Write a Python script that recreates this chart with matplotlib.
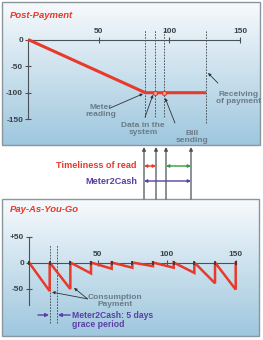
import numpy as np
import matplotlib.pyplot as plt

plt.rcParams['font.family'] = ['Liberation Sans', 'DejaVu Sans']

# ---- data ----
# post-payment balance: consumption until meter reading, then flat until payment
post_x = [0, 83, 90, 96, 126]
post_y = [0, -100, -100, -100, -100]
post_events = [83, 90, 96, 126]          # meter reading, data in system, bill sending, payment
post_ticks = [50, 100, 150]
post_yticks = [0, -50, -100, -150]

# pay-as-you-go: payment every 15 days, balance drops in between
payg_days = [0, 15, 30, 45, 60, 75, 90, 105, 120, 135, 150]
payg_min = [-55, -51, -21, -12, -10, -7, -10, -20, -40, -52]
payg_ticks = [50, 100, 150]
payg_yticks = [-50, 0, 50]
payg_ylabels = ['-50', '0', '+50']
grace = [15, 20]

W, H = 263, 340
RED = '#e8392a'
GREY = '#6b7c88'
PURPLE = '#5a3ea6'
GREEN = '#2f9c3c'
AXC = '#4a5258'

fig = plt.figure(figsize=(W / 100, H / 100), dpi=100)

# background / diagram layer in pixel coordinates
bg = fig.add_axes([0, 0, 1, 1])
bg.set_xlim(0, W)
bg.set_ylim(H, 0)
bg.axis('off')
grad = np.linspace(0, 1, 256).reshape(-1, 1)
c_top = np.array([0.97, 0.98, 0.99])
c_bot = np.array([0.62, 0.78, 0.87])
img = c_top + grad[..., None] * (c_bot - c_top)
for (x0, y0, x1, y1) in [(2, 2, 260, 145), (2, 199, 259, 336)]:
    bg.imshow(img, extent=(x0, x1, y1, y0), aspect='auto', zorder=0)
    bg.add_patch(plt.Rectangle((x0, y0), x1 - x0, y1 - y0, fill=False,
                               ec='#8a969e', lw=1.0, zorder=1))
bg.text(10, 15, 'Post-Payment', color=RED, fontsize=6.8, fontweight='bold',
        fontstyle='italic', va='center')
bg.text(10, 209, 'Pay-As-You-Go', color=RED, fontsize=6.8, fontweight='bold',
        fontstyle='italic', va='center')

# middle: timeline arrows
for x in [144, 156, 166, 191]:
    bg.annotate('', xy=(x, 147), xytext=(x, 199),
                arrowprops=dict(arrowstyle='-|>', color=AXC, lw=0.9,
                                mutation_scale=5, shrinkA=0, shrinkB=0))
bg.text(137, 166, 'Timeliness of read', color=RED, fontsize=6.6,
        fontweight='bold', ha='right', va='center')
bg.text(137, 181, 'Meter2Cash', color=PURPLE, fontsize=6.6,
        fontweight='bold', ha='right', va='center')
for (a, b, y, c) in [(144, 156, 166, RED), (166, 191, 166, GREEN), (144, 191, 181, PURPLE)]:
    bg.annotate('', xy=(b, y), xytext=(a, y),
                arrowprops=dict(arrowstyle='<|-|>', color=c, lw=1.0,
                                mutation_scale=4, shrinkA=0, shrinkB=0))


def chart_axes(ox, oy, sx, sy, xlim, ylim):
    x0 = ox + xlim[0] * sx
    x1 = ox + xlim[1] * sx
    ytop = oy - ylim[1] * sy
    ybot = oy - ylim[0] * sy
    ax = fig.add_axes([x0 / W, 1 - ybot / H, (x1 - x0) / W, (ybot - ytop) / H])
    ax.set_xlim(*xlim)
    ax.set_ylim(*ylim)
    ax.patch.set_alpha(0)
    for s in ['bottom', 'right']:
        ax.spines[s].set_visible(False)
    ax.spines['top'].set_position(('data', 0))
    ax.spines['left'].set_position(('data', 0))
    for s in ['top', 'left']:
        ax.spines[s].set_color(AXC)
        ax.spines[s].set_linewidth(0.8)
    ax.xaxis.set_ticks_position('top')
    ax.tick_params(direction='inout', length=5, width=0.8, color=AXC,
                   labelsize=6, labelcolor='#3a4248', pad=1)
    return ax


# ---- top chart ----
ax1 = chart_axes(28, 39.5, 1.4133, 0.532, (-20, 165), (-190, 25))
ax1.spines['top'].set_bounds(0, 150)
ax1.spines['left'].set_bounds(-150, 0)
ax1.set_xticks(post_ticks)
ax1.set_yticks(post_yticks)
ax1.set_xticklabels([str(t) for t in post_ticks], fontweight='bold')
ax1.set_yticklabels([str(t) for t in post_yticks], fontweight='bold')
ax1.vlines(post_events[:3], -146, 17, colors='#3a4248', linestyles=(0, (2, 1.5)), lw=0.6)
ax1.vlines(post_events[3], -157, 17, colors='#3a4248', linestyles=(0, (2, 1.5)), lw=0.6)
ax1.plot(post_x, post_y, color=RED, lw=2.2, solid_capstyle='butt', zorder=3)
ax1.plot(post_x[2:4], post_y[2:4], 'o', ms=3, mfc='#f6a08a', mec=RED, mew=0.8, zorder=4)

ann = dict(color=GREY, fontsize=6.0, fontweight='bold', ha='center', va='center',
           linespacing=1.0)
arr = dict(arrowstyle='-|>', color='#2e3338', lw=0.6, mutation_scale=4,
           shrinkA=0, shrinkB=0)
ax1.text(51.7, -134, 'Meter\nreading', **ann)
ax1.annotate('', xy=(81.4, -102), xytext=(58, -129), arrowprops=arr)
ax1.text(81.4, -168, 'Data in the\nsystem', **ann)
ax1.annotate('', xy=(88.4, -104), xytext=(82.8, -146), arrowprops=arr)
ax1.text(116, -183, 'Bill\nsending', **ann)
ax1.annotate('', xy=(97, -110), xytext=(104, -157), arrowprops=arr)
ax1.text(149.3, -110, 'Receiving\nof payment', **ann)
ax1.annotate('', xy=(127.4, -63), xytext=(134.4, -82), arrowprops=arr)

# ---- bottom chart ----
ax2 = chart_axes(29, 262.5, 1.378, 0.52, (-20, 165), (-140, 100))
ax2.spines['top'].set_bounds(0, 150)
ax2.spines['left'].set_bounds(-82, 50)
ax2.set_xticks(payg_ticks)
ax2.set_yticks(payg_yticks)
ax2.set_xticklabels([str(t) for t in payg_ticks], fontweight='bold')
ax2.set_yticklabels(payg_ylabels, fontweight='bold')

saw_x, saw_y = [payg_days[0]], [0]
for t, m in zip(payg_days[1:], payg_min):
    saw_x += [t, t]
    saw_y += [m, 0]
ax2.vlines(grace, -116, 34, colors='#3a4248', linestyles=(0, (2, 1.5)), lw=0.6)
ax2.plot(saw_x, saw_y, color=RED, lw=1.8, solid_joinstyle='miter', zorder=3)
ax2.plot(payg_days, [0] * len(payg_days), '|', color='#2e3338', ms=3, mew=1.2, zorder=4)

ax2.text(62.4, -74, 'Consumption\nPayment', **ann)
ax2.annotate('', xy=(16.7, -57), xytext=(42.5, -70), arrowprops=arr)
ax2.annotate('', xy=(32.7, -49), xytext=(42.5, -70), arrowprops=arr)
parr = dict(arrowstyle='-|>', color=PURPLE, lw=1.0, mutation_scale=5,
            shrinkA=0, shrinkB=0)
ax2.annotate('', xy=(14.5, -101), xytext=(6.5, -101), arrowprops=parr)
ax2.annotate('', xy=(21, -101), xytext=(29.8, -101), arrowprops=parr)
ax2.text(31.2, -101, 'Meter2Cash: 5 days', color=PURPLE, fontsize=6.2,
         fontweight='bold', ha='left', va='center')
ax2.text(31.2, -120, 'grace period', color=PURPLE, fontsize=6.2,
         fontweight='bold', ha='left', va='center')

fig.savefig('out.png', dpi=100)
